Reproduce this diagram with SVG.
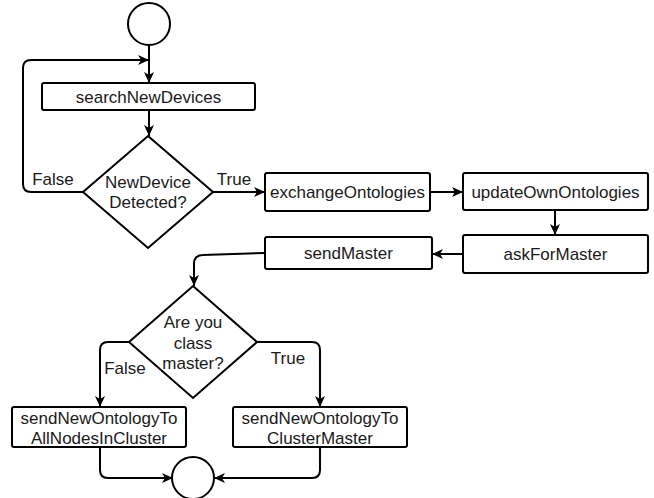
<svg xmlns="http://www.w3.org/2000/svg" width="654" height="498" viewBox="0 0 654 498">
<style>
.box{fill:#fff;stroke:#000;stroke-width:2}
.ln{fill:none;stroke:#000;stroke-width:2}
text{font-family:"Liberation Sans",Arial,sans-serif;font-size:17px;fill:#1a1a1a;text-anchor:middle;dominant-baseline:central}
</style>
<defs>
<marker id="arr" markerUnits="userSpaceOnUse" markerWidth="12" markerHeight="12" viewBox="0 0 12 12" refX="11" refY="6" orient="auto">
<path d="M0,1 L11,6 L0,11 L3,6 z" fill="#000"/>
</marker>
</defs>
<rect width="654" height="498" fill="#fff"/>
<g id="connectors">
<path class="ln" d="M149,45 L149,83" marker-end="url(#arr)"/>
<path class="ln" d="M83,192 L31,192 Q23,192 23,184 L23,68 Q23,60 31,60 L149,60" marker-end="url(#arr)"/>
<path class="ln" d="M149,110 L149,136" marker-end="url(#arr)"/>
<path class="ln" d="M213,192 L265,192" marker-end="url(#arr)"/>
<path class="ln" d="M430,192 L463,192" marker-end="url(#arr)"/>
<path class="ln" d="M555,210 L555,235" marker-end="url(#arr)"/>
<path class="ln" d="M463,254 L432,254" marker-end="url(#arr)"/>
<path class="ln" d="M265,253 L203,255 Q194,255 194,264 L194,286" marker-end="url(#arr)"/>
<path class="ln" d="M129,342 L108,342 Q100,342 100,350 L100,407" marker-end="url(#arr)"/>
<path class="ln" d="M257,342 L312,342 Q320,342 320,350 L320,407" marker-end="url(#arr)"/>
<path class="ln" d="M100,447 L100,470 Q100,478 108,478 L173,478" marker-end="url(#arr)"/>
<path class="ln" d="M320,447 L320,470 Q320,478 312,478 L214,478" marker-end="url(#arr)"/>
</g>
<g id="start"><circle class="box" cx="149" cy="24" r="21"/></g>
<g id="searchNewDevices"><rect class="box" x="42" y="83" width="213" height="27" rx="2"/><text x="148.5" y="97">searchNewDevices</text></g>
<g id="newDeviceDetected"><polygon class="box" points="148,136 213,192 148,248 83,192"/><text x="148" y="182">NewDevice</text><text x="148" y="202">Detected?</text></g>
<text x="53" y="179">False</text>
<text x="234" y="179">True</text>
<g id="exchangeOntologies"><rect class="box" x="265" y="173" width="165" height="38" rx="2"/><text x="347.5" y="192">exchangeOntologies</text></g>
<g id="updateOwnOntologies"><rect class="box" x="463" y="173" width="185" height="37" rx="2"/><text x="555.5" y="192">updateOwnOntologies</text></g>
<g id="askForMaster"><rect class="box" x="463" y="235" width="185" height="38" rx="2"/><text x="555.5" y="254">askForMaster</text></g>
<g id="sendMaster"><rect class="box" x="265" y="237" width="167" height="32" rx="2"/><text x="348.5" y="253">sendMaster</text></g>
<g id="areYouClassMaster"><polygon class="box" points="193,286 257,342 193,398 129,342"/><text x="193" y="322">Are you</text><text x="193" y="343">class</text><text x="193" y="363">master?</text></g>
<text x="125" y="368">False</text>
<text x="288" y="358">True</text>
<g id="sendNewOntologyToAllNodesInCluster"><rect class="box" x="12" y="407" width="174" height="40" rx="2"/><text x="99" y="418">sendNewOntologyTo</text><text x="99" y="438">AllNodesInCluster</text></g>
<g id="sendNewOntologyToClusterMaster"><rect class="box" x="233" y="407" width="174" height="40" rx="2"/><text x="320" y="418">sendNewOntologyTo</text><text x="320" y="438">ClusterMaster</text></g>
<g id="end"><circle class="box" cx="193" cy="478" r="21"/></g>
</svg>
